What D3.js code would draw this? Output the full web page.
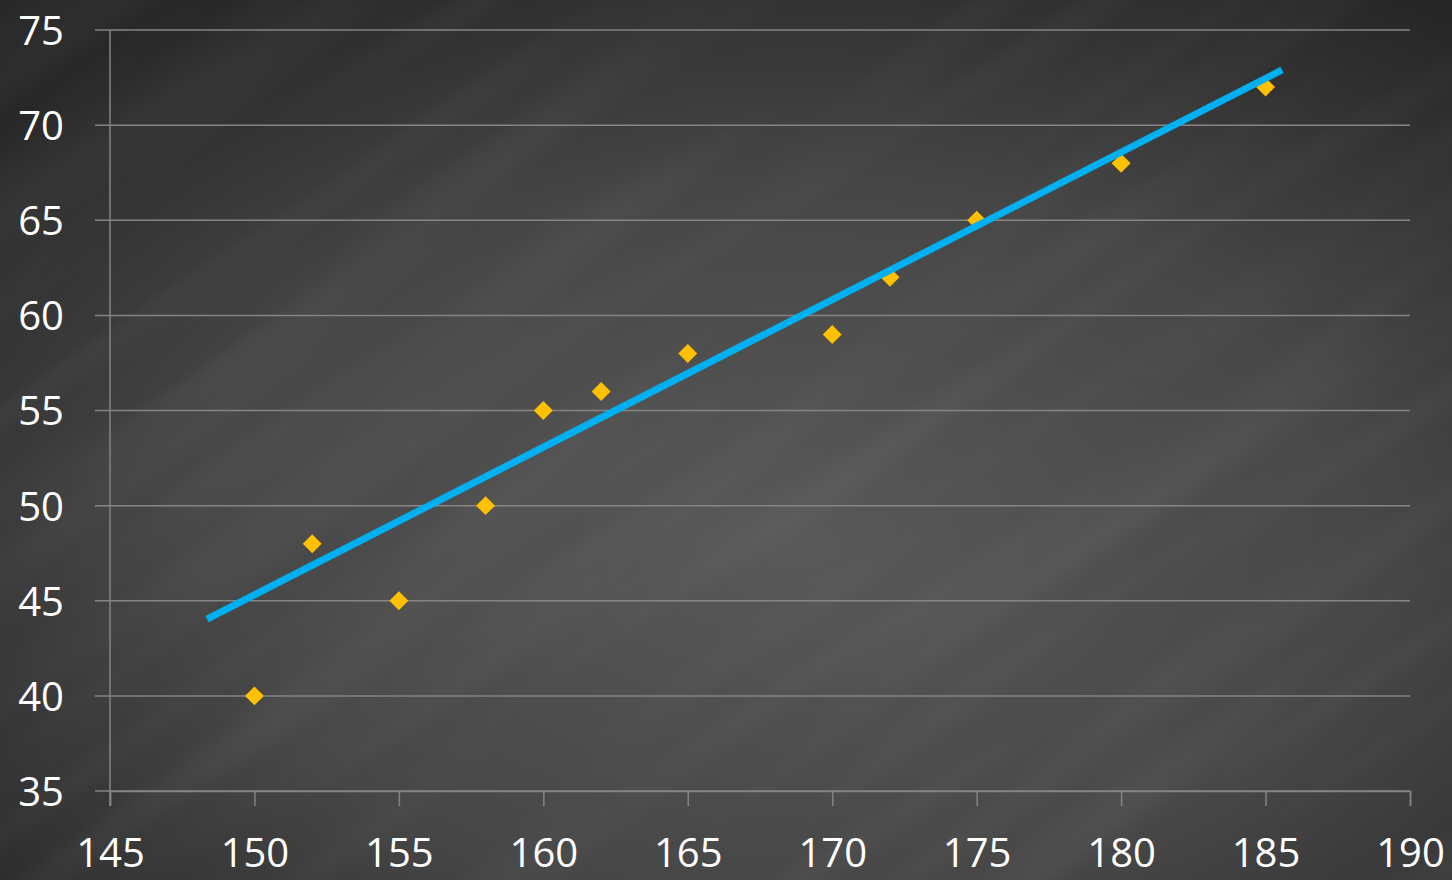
<!DOCTYPE html>
<html>
<head>
<meta charset="utf-8">
<script src="https://cdn.jsdelivr.net/npm/d3@7"></script>
<style>
  html, body { margin: 0; padding: 0; background: #333; }
  svg { display: block; }
</style>
</head>
<body>
<svg id="chart" width="1452" height="880"></svg>
<script>
// Height (cm) vs weight (kg) observations
const heights = [150, 152, 155, 158, 160, 162, 165, 170, 172, 175, 180, 185];
const weights = [40, 48, 45, 50, 55, 56, 58, 59, 62, 65, 68, 72];

// Fitted trend segment endpoints
const trendX = [148.36, 185.57];
const trendY = [44.04, 72.9];

// Axis ticks
const xTicks = [145, 150, 155, 160, 165, 170, 175, 180, 185, 190];
const yTicks = [35, 40, 45, 50, 55, 60, 65, 70, 75];

const W = 1452, H = 880;
const svg = d3.select("#chart");
const defs = svg.append("defs");

// Chalkboard background: radial light in the middle, dark corners
const rg = defs.append("radialGradient").attr("id", "bg")
  .attr("cx", "55%").attr("cy", "62%").attr("r", "75%");
rg.append("stop").attr("offset", "0%").attr("stop-color", "#595959");
rg.append("stop").attr("offset", "55%").attr("stop-color", "#464646");
rg.append("stop").attr("offset", "100%").attr("stop-color", "#262626");

// Soft diagonal streaky texture
const f = defs.append("filter").attr("id", "streaks")
  .attr("x", 0).attr("y", 0).attr("width", "100%").attr("height", "100%");
f.append("feTurbulence").attr("type", "fractalNoise")
  .attr("baseFrequency", "0.0015 0.018").attr("numOctaves", 2).attr("seed", 7)
  .attr("result", "noise");
f.append("feColorMatrix").attr("type", "matrix")
  .attr("values", "0 0 0 0 1  0 0 0 0 1  0 0 0 0 1  0.9 0 0 0 -0.38")
  .attr("result", "lit");
f.append("feGaussianBlur").attr("stdDeviation", 3);

svg.append("rect").attr("width", W).attr("height", H).attr("fill", "url(#bg)");
svg.append("g").attr("transform", `rotate(-35 ${W/2} ${H/2})`)
  .append("rect")
  .attr("x", -600).attr("y", -600).attr("width", W + 1200).attr("height", H + 1200)
  .attr("filter", "url(#streaks)").attr("opacity", 0.12);

const x = d3.scaleLinear().domain([145, 190]).range([110, 1410]);
const y = d3.scaleLinear().domain([35, 75]).range([791, 30]);

const lineCol = "#858585";
const font = "'Open Sans', 'Liberation Sans', sans-serif";

// Horizontal gridlines with short ticks past the y axis
svg.append("g")
  .selectAll("line").data(yTicks).join("line")
  .attr("x1", 95).attr("x2", x(190))
  .attr("y1", d => y(d)).attr("y2", d => y(d))
  .attr("stroke", lineCol).attr("stroke-width", 1.5);

// Left axis line
svg.append("line")
  .attr("x1", x(145)).attr("x2", x(145))
  .attr("y1", y(75)).attr("y2", y(35) + 15)
  .attr("stroke", lineCol).attr("stroke-width", 1.5);

// Bottom axis with downward ticks
const xAxis = d3.axisBottom(x).tickValues(xTicks).tickSize(15).tickFormat(d3.format("d"));
const gx = svg.append("g").attr("transform", `translate(0,${y(35)})`).call(xAxis);
gx.select(".domain").attr("stroke", lineCol).attr("stroke-width", 1.5);
gx.selectAll(".tick line").attr("stroke", lineCol).attr("stroke-width", 1.5);
gx.selectAll(".tick text")
  .attr("fill", "#ffffff").attr("font-family", font)
  .attr("font-size", 40).attr("dy", null).attr("y", 76);

// Left axis labels
const yAxis = d3.axisLeft(y).tickValues(yTicks).tickSize(0).tickFormat(d3.format("d"));
const gy = svg.append("g").attr("transform", `translate(64,0)`).call(yAxis);
gy.select(".domain").remove();
gy.selectAll(".tick text")
  .attr("fill", "#ffffff").attr("font-family", font)
  .attr("font-size", 40).attr("x", 0).attr("dy", "0.36em");

// Data points as diamonds
const diamond = d3.symbol().type(d3.symbolSquare).size(180);
svg.append("g")
  .selectAll("path").data(heights.map((h, i) => [h, weights[i]])).join("path")
  .attr("d", diamond)
  .attr("transform", d => `translate(${x(d[0])},${y(d[1])}) rotate(45)`)
  .attr("fill", "#FFC000");

// Trend line
const trend = trendX.map((v, i) => [v, trendY[i]]);
svg.append("path")
  .datum(trend)
  .attr("d", d3.line().x(d => x(d[0])).y(d => y(d[1])))
  .attr("stroke", "#00B0F0").attr("stroke-width", 7).attr("fill", "none");
</script>
</body>
</html>
